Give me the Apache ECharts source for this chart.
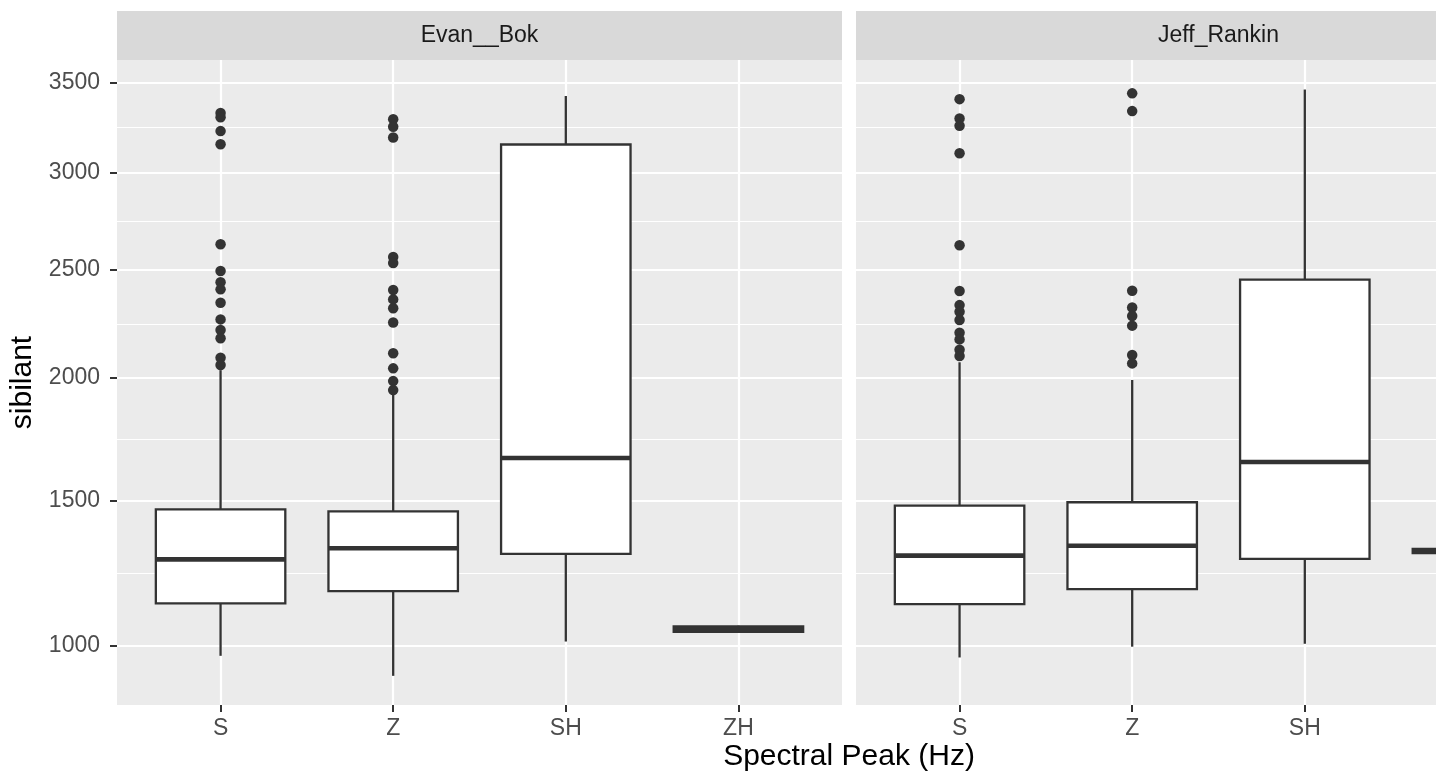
<!DOCTYPE html>
<html><head><meta charset="utf-8">
<script src="https://cdn.jsdelivr.net/npm/echarts@6/dist/echarts.min.js"></script>
<style>html,body{margin:0;padding:0;background:#fff}#c{width:1436px;height:780px}</style>
</head><body><div id="c"></div>
<script>
// ---- data (Hz) ----
const categories = ['S', 'Z', 'SH', 'ZH'];
const panels = ['Evan__Bok', 'Jeff_Rankin'];
const yTicks = [1000, 1500, 2000, 2500, 3000, 3500];
const yLimits = [826, 3633];
// [lowWhisker, q1, median, q3, highWhisker] per category
const evanBoxes = [
  [970, 1136, 1286, 1467, 2035],
  [910, 1177, 1325, 1460, 1935],
  [1014, 1305, 1666, 3152, 3424],
  [1042, 1044, 1053, 1062, 1064]
];
const jeffBoxes = [
  [965, 1134, 1299, 1481, 2070],
  [998, 1184, 1334, 1494, 1992],
  [1007, 1288, 1650, 2454, 3461],
  [1306, 1308, 1315, 1323, 1325]
];
const evanOutS = [3327, 3303, 3226, 3153, 2628, 2496, 2441, 2407, 2343, 2265, 2216, 2178, 2090, 2058];
const evanOutZ = [3292, 3250, 3191, 2565, 2535, 2404, 2359, 2317, 2251, 2110, 2043, 1987, 1948];
const jeffOutS = [3406, 3297, 3256, 3104, 2623, 2399, 2332, 2301, 2262, 2203, 2173, 2126, 2098];
const jeffOutZ = [3439, 3338, 2400, 2321, 2281, 2236, 2102, 2065];

// ---- layout ----
const CANVAS_W = 1436;
const GRID_TOP = 60, GRID_H = 645, GRID_W = 725;
const GRID_LEFT = [117, 856];
const STRIP_TOP = 11, STRIP_H = 49;
const FONT = '"Liberation Sans", Arial, sans-serif';
const INK = '#333333';

const sq = Math.sqrt;
const majorS = yTicks.map(sq);
const minorS = [];
for (let i = 0; i < majorS.length - 1; i++) minorS.push((majorS[i] + majorS[i + 1]) / 2);

function makeX(gi) {
  return {
    gridIndex: gi, type: 'value', min: 0.4, max: 4.6,
    axisLine: { show: false },
    axisTick: { show: true, length: 7, lineStyle: { color: INK, width: 2 }, customValues: [1, 2, 3, 4] },
    axisLabel: { customValues: [1, 2, 3, 4], formatter: v => categories[Math.round(v) - 1], color: '#4D4D4D', fontSize: 23, fontFamily: FONT, margin: 12 },
    splitLine: { show: true, lineStyle: { color: '#FFFFFF', width: 2.2 } }
  };
}
function makeY(gi, show) {
  return {
    gridIndex: gi, type: 'value', min: sq(yLimits[0]), max: sq(yLimits[1]),
    axisLine: { show: false },
    axisTick: { show: show, length: 7, lineStyle: { color: INK, width: 2 }, customValues: majorS },
    axisLabel: { show: show, customValues: majorS, formatter: v => String(Math.round(v * v)), color: '#4D4D4D', fontSize: 23, fontFamily: FONT, margin: 17 },
    splitLine: { show: true, lineStyle: { color: '#FFFFFF', width: 2.2 } }
  };
}
function makeYMinor(gi) {
  return {
    gridIndex: gi, type: 'value', min: sq(yLimits[0]), max: sq(yLimits[1]), position: 'left',
    axisLine: { show: false },
    axisTick: { show: false, customValues: minorS },
    axisLabel: { show: false, customValues: minorS },
    splitLine: { show: true, lineStyle: { color: '#FFFFFF', width: 1.1 } }
  };
}

function renderBox(params, api) {
  const x = api.value(0);
  const lo = api.coord([x, api.value(1)]);
  const q1 = api.coord([x, api.value(2)]);
  const md = api.coord([x, api.value(3)]);
  const q3 = api.coord([x, api.value(4)]);
  const hi = api.coord([x, api.value(5)]);
  const w = api.size([0.75, 0])[0];
  const cx = lo[0];
  const ls = { stroke: INK, lineWidth: 2.3 };
  return {
    type: 'group', children: [
      { type: 'line', shape: { x1: cx, y1: hi[1], x2: cx, y2: q3[1] }, style: ls },
      { type: 'line', shape: { x1: cx, y1: q1[1], x2: cx, y2: lo[1] }, style: ls },
      { type: 'rect', shape: { x: cx - w / 2, y: q3[1], width: w, height: q1[1] - q3[1] }, style: { fill: '#FFFFFF', stroke: INK, lineWidth: 2.3 } },
      { type: 'line', shape: { x1: cx - w / 2, y1: md[1], x2: cx + w / 2, y2: md[1] }, style: { stroke: INK, lineWidth: 4.6 } }
    ]
  };
}

function boxData(boxes) {
  return boxes.map((b, i) => [i + 1].concat(b.map(sq)));
}
function outData(idx, vals) {
  return vals.map(v => [idx, sq(v)]);
}

const series = [];
[[evanBoxes, evanOutS, evanOutZ], [jeffBoxes, jeffOutS, jeffOutZ]].forEach((p, gi) => {
  series.push({
    type: 'custom', xAxisIndex: gi, yAxisIndex: gi * 2, renderItem: renderBox,
    encode: { x: 0, y: [1, 2, 3, 4, 5] }, data: boxData(p[0]), z: 2, silent: true
  });
  series.push({
    type: 'scatter', xAxisIndex: gi, yAxisIndex: gi * 2, symbolSize: 10.5,
    itemStyle: { color: INK, opacity: 1 }, data: outData(1, p[1]).concat(outData(2, p[2])), z: 3, silent: true
  });
});

const graphics = [];
panels.forEach((name, gi) => {
  graphics.push({ type: 'rect', shape: { x: GRID_LEFT[gi], y: STRIP_TOP, width: GRID_W, height: STRIP_H }, style: { fill: '#D9D9D9' }, z: -1 });
  graphics.push({ type: 'text', x: GRID_LEFT[gi] + GRID_W / 2, y: STRIP_TOP + STRIP_H / 2,
    style: { text: name, fill: '#1A1A1A', font: '23px ' + FONT, align: 'center', verticalAlign: 'middle' } });
});
graphics.push({ type: 'text', x: (GRID_LEFT[0] + GRID_LEFT[1] + GRID_W) / 2, y: 757,
  style: { text: 'Spectral Peak (Hz)', fill: '#000000', font: '30px ' + FONT, align: 'center', verticalAlign: 'middle' } });
graphics.push({ type: 'text', x: 23, y: GRID_TOP + GRID_H / 2, rotation: Math.PI / 2,
  style: { text: 'sibilant', fill: '#000000', font: '30px ' + FONT, align: 'center', verticalAlign: 'middle' } });

const chart = echarts.init(document.getElementById('c'), null, { renderer: 'canvas' });
chart.setOption({
  animation: false,
  backgroundColor: '#FFFFFF',
  grid: GRID_LEFT.map(l => ({ left: l, top: GRID_TOP, right: CANVAS_W - l - GRID_W, height: GRID_H,
    show: true, backgroundColor: '#EBEBEB', borderWidth: 0, containLabel: false, outerBoundsMode: 'none' })),
  xAxis: [makeX(0), makeX(1)],
  yAxis: [makeY(0, true), makeYMinor(0), makeY(1, false), makeYMinor(1)],
  series: series,
  graphic: graphics
});
</script></body></html>
